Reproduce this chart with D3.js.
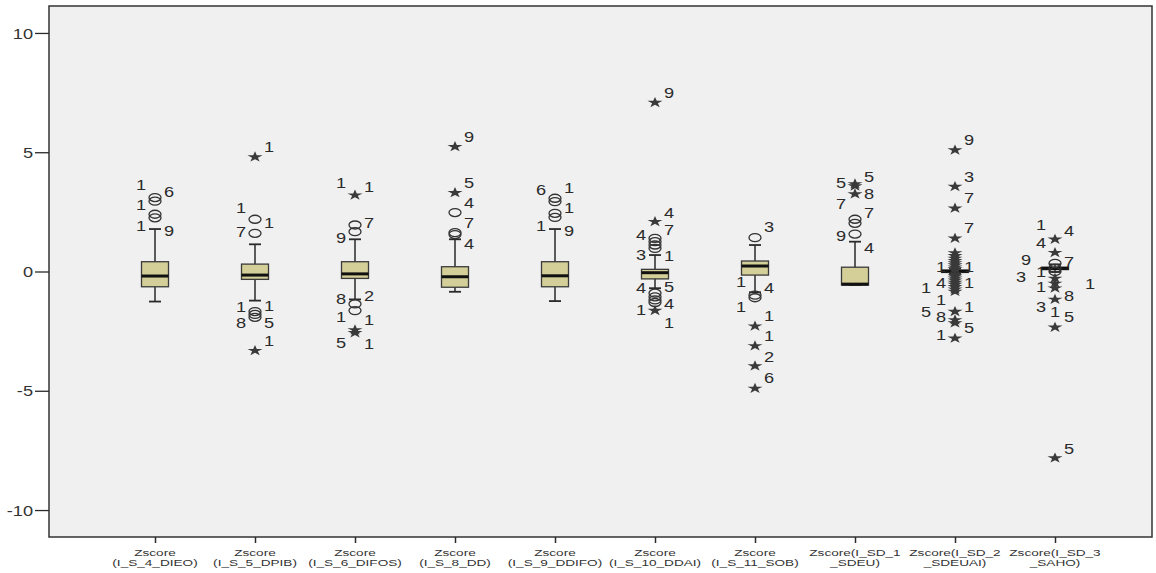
<!DOCTYPE html>
<html>
<head>
<meta charset="utf-8">
<script src="https://cdn.jsdelivr.net/npm/d3@7"></script>
<style>
  body { margin: 0; background: #fff; }
  text { font-family: "Liberation Sans", Arial, sans-serif; }
</style>
</head>
<body>
<svg id="chart" width="1156" height="573"></svg>
<script>
// --- data ---
const categories = ["I_S_4_DIEO", "I_S_5_DPIB", "I_S_6_DIFOS", "I_S_8_DD", "I_S_9_DDIFO",
  "I_S_10_DDAI", "I_S_11_SOB", "I_SD_1_SDEU", "I_SD_2_SDEUAI", "I_SD_3_SAHO"];
const labelLine1 = ["Zscore", "Zscore", "Zscore", "Zscore", "Zscore", "Zscore", "Zscore",
  "Zscore(I_SD_1", "Zscore(I_SD_2", "Zscore(I_SD_3"];
const labelLine2 = ["(I_S_4_DIEO)", "(I_S_5_DPIB)", "(I_S_6_DIFOS)", "(I_S_8_DD)", "(I_S_9_DDIFO)",
  "(I_S_10_DDAI)", "(I_S_11_SOB)", "_SDEU)", "_SDEUAI)", "_SAHO)"];

const whiskerLo = [-1.26, -1.22, -1.17, -0.85, -1.24, -0.70, -0.87, -0.57, -0.10, -0.02];
const q1 =        [-0.64, -0.33, -0.29, -0.66, -0.64, -0.31, -0.15, -0.57, -0.04, 0.08];
const median =    [-0.19, -0.15, -0.10, -0.22, -0.18, -0.05, 0.23, -0.53, 0.01, 0.13];
const q3 =        [0.41, 0.31, 0.41, 0.20, 0.41, 0.09, 0.44, 0.18, 0.06, 0.18];
const whiskerHi = [1.78, 1.14, 1.35, 1.35, 1.78, 0.69, 1.11, 1.25, 0.12, 0.30];

// outliers: circles (mild) and stars (extreme), per category
const circles = [
  [2.25, 2.4, 2.95, 3.1],
  [2.19, 1.6, -1.68, -1.8, -1.92],
  [1.95, 1.67, -1.36, -1.64],
  [2.47, 1.63, 1.55],
  [3.07, 2.93, 2.44, 2.27],
  [1.39, 1.25, 1.11, 0.97, -0.91, -1.06, -1.19, -1.3],
  [1.42, -0.99, -1.1],
  [2.19, 2.02, 1.57],
  [],
  [0.34, 0.13, 0.0]
];
const stars = [
  [],
  [4.8, -3.32],
  [3.2, -2.45, -2.57],
  [5.23, 3.3],
  [],
  [7.08, 2.09, -1.64],
  [-2.29, -3.12, -3.96, -4.9],
  [3.67, 3.58, 3.25],
  [5.09, 3.56, 2.65, 1.39, 0.78, 0.66, 0.55, 0.45, 0.36, 0.27, 0.18, 0.1, -0.12, -0.2, -0.28,
    -0.37, -0.46, -0.55, -0.64, -0.74, -0.84, -1.68, -2.03, -2.16, -2.8],
  [1.35, 0.79, -0.29, -0.5, -0.7, -1.17, -2.34, -7.82]
];

// case labels: [value, text, side]
const caseLabels = [
  [[3.63, "1", "L"], [3.33, "6", "R"], [2.79, "1", "L"], [1.91, "1", "L"], [1.70, "9", "R"]],
  [[5.22, "1", "R"], [2.66, "1", "L"], [2.05, "1", "R"], [1.66, "7", "L"], [-1.48, "1", "L"],
    [-1.43, "1", "R"], [-2.15, "8", "L"], [-2.16, "5", "R"], [-2.91, "1", "R"]],
  [[3.70, "1", "L"], [3.56, "1", "R"], [2.05, "7", "R"], [1.39, "9", "L"], [-1.17, "8", "L"],
    [-1.03, "2", "R"], [-1.90, "1", "L"], [-2.03, "1", "R"], [-2.99, "5", "L"], [-3.04, "1", "R"]],
  [[5.65, "9", "R"], [3.72, "5", "R"], [2.86, "4", "R"], [2.02, "7", "R"], [1.14, "4", "R"]],
  [[3.42, "6", "L"], [3.49, "1", "R"], [2.65, "1", "R"], [1.92, "1", "L"], [1.71, "9", "R"]],
  [[7.50, "9", "R"], [2.47, "4", "R"], [1.74, "7", "R"], [1.53, "4", "L"], [0.69, "3", "L"],
    [0.65, "1", "R"], [-0.70, "4", "L"], [-0.64, "5", "R"], [-1.36, "4", "R"], [-1.61, "1", "L"],
    [-2.15, "1", "R"]],
  [[1.88, "3", "R"], [-0.43, "1", "L"], [-0.70, "4", "R"], [-1.49, "1", "L"], [-1.87, "1", "R"],
    [-2.70, "1", "R"], [-3.57, "2", "R"], [-4.45, "6", "R"]],
  [[3.70, "5", "L"], [3.95, "5", "R"], [3.25, "8", "R"], [2.83, "7", "L"], [2.44, "7", "R"],
    [1.49, "9", "L"], [0.97, "4", "R"]],
  [[5.51, "9", "R"], [3.97, "3", "R"], [3.07, "7", "R"], [1.81, "7", "R"], [0.2, "1", "L"],
    [0.2, "1", "R"], [-0.70, "1", "LL"], [-0.49, "4", "L"], [-0.49, "1", "R"], [-1.19, "1", "L"],
    [-1.48, "1", "R"], [-1.69, "5", "LL"], [-1.90, "8", "L"], [-2.38, "5", "R"], [-2.66, "1", "L"]],
  [[1.95, "1", "L"], [1.71, "4", "R"], [1.21, "4", "L"], [0.48, "9", "LL"], [0.41, "7", "R"],
    [-0.22, "3", "LLL"], [-0.01, "1", "L"], [-0.66, "1", "L"], [-0.52, "1", "RR"], [-1.03, "8", "R"],
    [-1.48, "3", "L"], [-1.69, "1", "C"], [-1.92, "5", "R"], [-7.44, "5", "R"]]
];
const yTicks = [10, 5, 0, -5, -10];

// --- layout ---
const plot = { left: 49, right: 1152, top: 6, bottom: 537 };
const sideOffset = { L: -14, R: 14, LL: -29, LLL: -34, RR: 35, C: 0 };
const boxFill = "#d4cf98";
const ink = "#2a2a2a";
const stretch = 1.3;

const svg = d3.select("#chart");

const x = d3.scalePoint()
  .domain(categories)
  .range([155, 1055]);

const y = d3.scaleLinear()
  .domain([-11.13, 11.13])
  .range([plot.bottom, plot.top]);

svg.append("rect")
  .attr("x", plot.left)
  .attr("y", plot.top)
  .attr("width", plot.right - plot.left)
  .attr("height", plot.bottom - plot.top)
  .attr("fill", "#f0f0f0")
  .attr("stroke", "#333")
  .attr("stroke-width", 1.5);

// y axis (hyphen minus, as in the original)
const yAxis = svg.append("g")
  .attr("transform", `translate(${plot.left},0)`)
  .call(d3.axisLeft(y).tickValues(yTicks).tickSize(14).tickSizeOuter(0).tickFormat(d => String(d)));
yAxis.select(".domain").remove();
yAxis.selectAll(".tick line").attr("stroke", ink).attr("stroke-width", 1.3);
yAxis.selectAll(".tick text")
  .attr("x", -16 / stretch)
  .attr("dy", "0.36em")
  .attr("transform", `scale(${stretch},1)`)
  .attr("fill", "#333")
  .style("font-size", "14px")
  .style("font-family", "'Liberation Sans', Arial, sans-serif");

// x axis
const xAxis = svg.append("g")
  .attr("transform", `translate(0,${plot.bottom})`)
  .call(d3.axisBottom(x).tickSize(6).tickSizeOuter(0).tickFormat(""));
xAxis.select(".domain").remove();
xAxis.selectAll(".tick line").attr("stroke", ink).attr("stroke-width", 1.5);

const xl = svg.append("g").attr("class", "x-labels");
categories.forEach((c, i) => {
  const t = xl.append("text")
    .attr("transform", `translate(${x(c)},0) scale(1.6,1)`)
    .attr("text-anchor", "middle")
    .attr("fill", "#333")
    .style("font-size", "8.5px");
  t.append("tspan").attr("x", 0).attr("y", 556).text(labelLine1[i]);
  t.append("tspan").attr("x", 0).attr("y", 566).text(labelLine2[i]);
});

// boxes
const boxW = 27, capW = 12;
const boxes = svg.append("g").attr("class", "boxes");
categories.forEach((c, i) => {
  const cx = x(c);
  const g = boxes.append("g");
  g.append("line")
    .attr("x1", cx).attr("x2", cx)
    .attr("y1", y(whiskerHi[i])).attr("y2", y(whiskerLo[i]))
    .attr("stroke", ink).attr("stroke-width", 1.5);
  [whiskerHi[i], whiskerLo[i]].forEach(v => {
    g.append("line")
      .attr("x1", cx - capW / 2).attr("x2", cx + capW / 2)
      .attr("y1", y(v)).attr("y2", y(v))
      .attr("stroke", ink).attr("stroke-width", 1.8);
  });
  g.append("rect")
    .attr("x", cx - boxW / 2)
    .attr("width", boxW)
    .attr("y", y(q3[i]))
    .attr("height", Math.max(1, y(q1[i]) - y(q3[i])))
    .attr("fill", boxFill)
    .attr("stroke", "#3a3a3a")
    .attr("stroke-width", 1.3);
  g.append("line")
    .attr("x1", cx - boxW / 2).attr("x2", cx + boxW / 2)
    .attr("y1", y(median[i])).attr("y2", y(median[i]))
    .attr("stroke", "#111").attr("stroke-width", 3);
});

// outliers
const starPath = d3.symbol().type(d3.symbolStar).size(36)();
const marks = svg.append("g").attr("class", "outliers");
categories.forEach((c, i) => {
  const cx = x(c);
  marks.selectAll(null)
    .data(circles[i])
    .enter().append("ellipse")
    .attr("cx", cx)
    .attr("cy", d => y(d))
    .attr("rx", 6)
    .attr("ry", 4)
    .attr("fill", "none")
    .attr("stroke", "#333")
    .attr("stroke-width", 1.3);
  marks.selectAll(null)
    .data(stars[i])
    .enter().append("path")
    .attr("d", starPath)
    .attr("transform", d => `translate(${cx},${y(d)}) scale(1.4,1)`)
    .attr("fill", "#3a3a3a");
});

// case labels
const labels = svg.append("g").attr("class", "case-labels");
categories.forEach((c, i) => {
  labels.selectAll(null)
    .data(caseLabels[i])
    .enter().append("text")
    .attr("transform", d => `translate(${x(c) + sideOffset[d[2]]},${y(d[0])}) scale(${stretch},1)`)
    .attr("dy", "0.36em")
    .attr("text-anchor", "middle")
    .attr("fill", "#2a2a2a")
    .style("font-size", "14px")
    .text(d => d[1]);
});
</script>
</body>
</html>
